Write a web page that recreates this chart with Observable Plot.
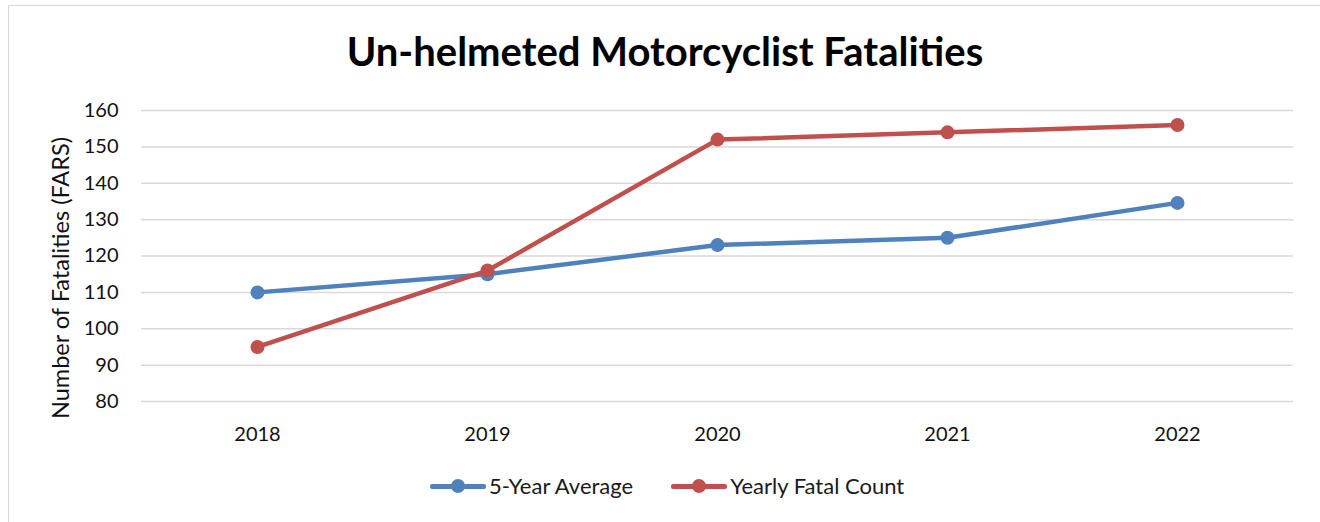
<!DOCTYPE html>
<html>
<head>
<meta charset="utf-8">
<script src="https://cdn.jsdelivr.net/npm/d3@7"></script>
<script src="https://cdn.jsdelivr.net/npm/@observablehq/plot@0.6"></script>
<style>
  body { margin: 0; background: #fff; font-family: Lato, "Open Sans", sans-serif; }
  #wrap { position: relative; width: 1320px; height: 522px; overflow: hidden; background: #fff; }
  #frame { position: absolute; left: 8px; top: 5px; width: 1400px; height: 600px;
           border-left: 1.5px solid #d9d9d9; border-top: 1.5px solid #d9d9d9; }
  #title { position: absolute; left: 10px; top: 31px; width: 1310px; text-align: center;
           font-size: 40px; line-height: 40px; font-weight: 700; color: #000; }
  #chart { position: absolute; left: 0; top: 90px; }
  #legend { position: absolute; left: 430px; top: 476px; height: 20px; display: flex;
            align-items: center; font-size: 22px; line-height: 22px; color: #1a1a1a; }
  .item { display: flex; align-items: center; margin-right: 38px; }
  .sw { position: relative; width: 56px; height: 16px; margin-right: 3px; }
  .sw .ln { position: absolute; left: 0; right: 0; top: 6px; height: 4.5px; border-radius: 2px; }
  .sw .pt { position: absolute; left: 21px; top: 1px; width: 14px; height: 14px; border-radius: 50%; }
</style>
</head>
<body>
<div id="wrap">
  <div id="frame"></div>
  <div id="title"></div>
  <div id="chart"></div>
  <div id="legend"></div>
</div>
<script>
const title = "Un-helmeted Motorcyclist Fatalities";
const yLabel = "Number of Fatalities (FARS)";
const years = ["2018", "2019", "2020", "2021", "2022"];
const fiveYearAverage = [110, 115, 123, 125, 134.6];
const yearlyFatalCount = [95, 116, 152, 154, 156];
const seriesNames = ["5-Year Average", "Yearly Fatal Count"];
const seriesColors = ["#4f81bd", "#c0504d"];
const yTicks = [80, 90, 100, 110, 120, 130, 140, 150, 160];

const seriesValues = [fiveYearAverage, yearlyFatalCount];
const data = seriesNames.flatMap((s, i) =>
  years.map((yr, j) => ({series: s, year: yr, value: seriesValues[i][j]})));

document.getElementById("title").textContent = title;

const seriesMarks = seriesNames.flatMap(s => {
  const d = data.filter(r => r.series === s);
  return [
    Plot.line(d, {x: "year", y: "value", stroke: "series", strokeWidth: 4.5, strokeLinecap: "round", strokeLinejoin: "round"}),
    Plot.dot(d, {x: "year", y: "value", fill: "series", r: 7, stroke: null})
  ];
});

const chart = Plot.plot({
  width: 1320,
  height: 370,
  marginLeft: 141,
  marginRight: 27,
  marginTop: 20,
  marginBottom: 59,
  style: {fontFamily: "Lato, 'Open Sans', sans-serif", fontSize: "20px", color: "#111", background: "transparent", overflow: "visible"},
  x: {type: "point", domain: years, padding: 0.5, label: null},
  y: {domain: [80, 160], label: null},
  color: {domain: seriesNames, range: seriesColors},
  marks: [
    Plot.gridY(yTicks, {stroke: "#d9d9d9", strokeOpacity: 1, strokeWidth: 1.5}),
    Plot.axisY(yTicks, {tickSize: 0, tickPadding: 23, label: null, fontSize: 20}),
    Plot.axisX({tickSize: 0, tickPadding: 25, label: null, fontSize: 20}),
    ...seriesMarks,
    Plot.text([yLabel], {text: d => d, frameAnchor: "left", textAnchor: "middle", rotate: -90, dx: -80, dy: 22, fontSize: 23.5, fill: "#111"})
  ]
});
document.getElementById("chart").appendChild(chart);

const legend = document.getElementById("legend");
seriesNames.forEach((s, i) => {
  const item = document.createElement("div");
  item.className = "item";
  const sw = document.createElement("div");
  sw.className = "sw";
  const ln = document.createElement("div");
  ln.className = "ln"; ln.style.background = seriesColors[i];
  const pt = document.createElement("div");
  pt.className = "pt"; pt.style.background = seriesColors[i];
  sw.appendChild(ln); sw.appendChild(pt);
  const label = document.createElement("span");
  label.textContent = s;
  item.appendChild(sw); item.appendChild(label);
  legend.appendChild(item);
});
</script>
</body>
</html>
